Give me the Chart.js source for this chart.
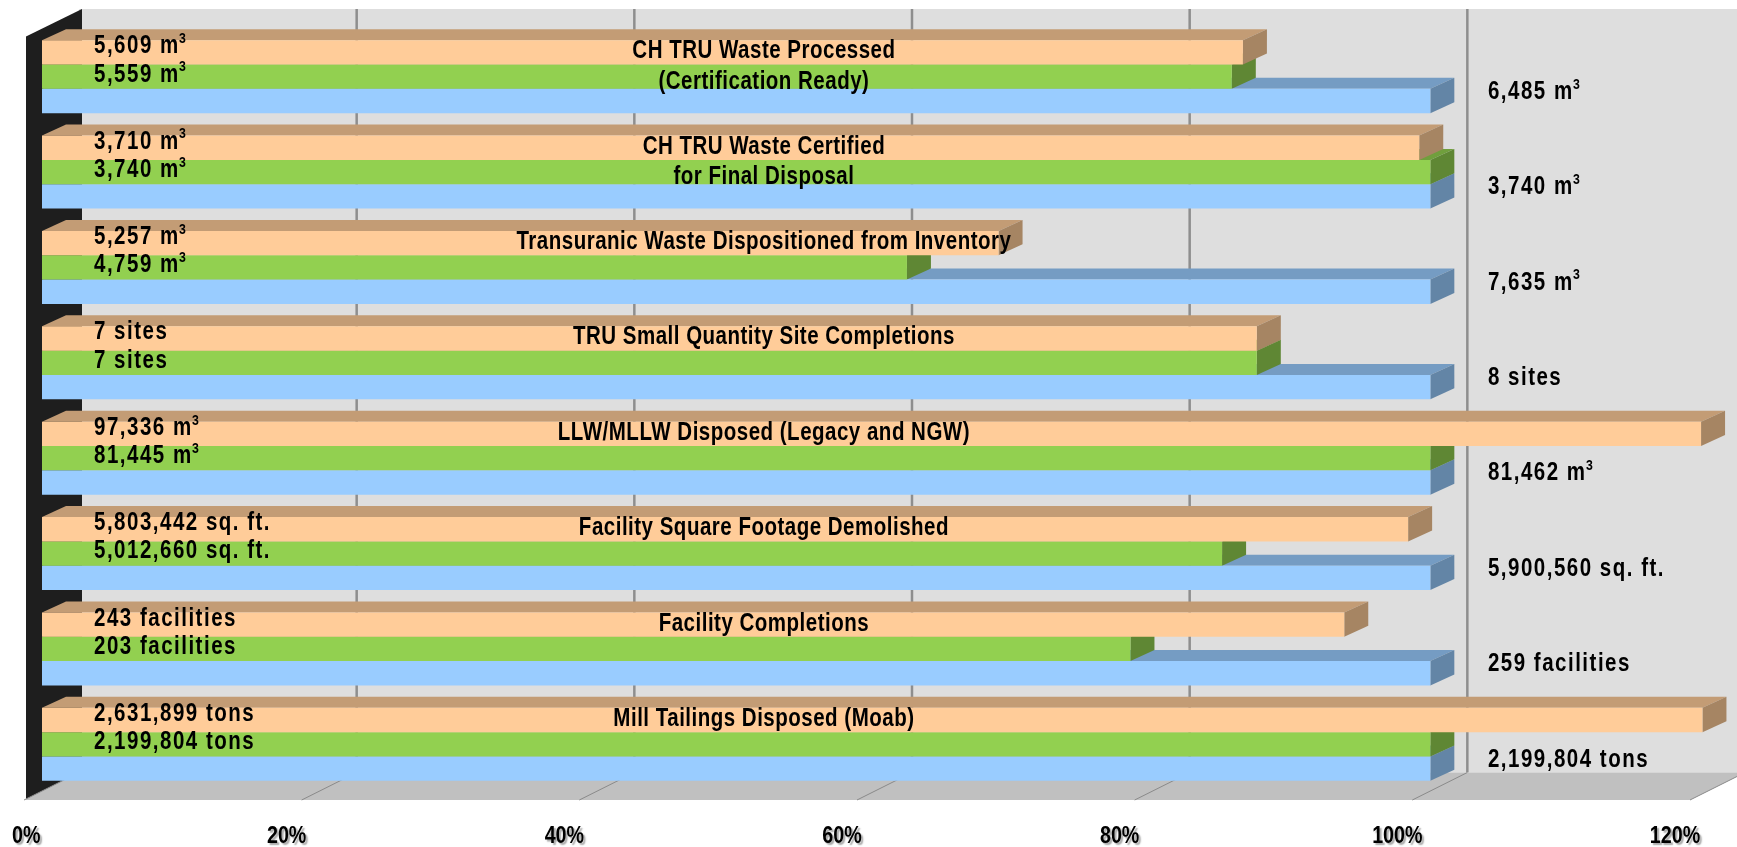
<!DOCTYPE html>
<html>
<head>
<meta charset="utf-8">
<script src="https://cdn.jsdelivr.net/npm/chart.js@4.4.1/dist/chart.umd.min.js"></script>
<style>
    html, body { margin: 0; padding: 0; background: #fff; }
    #wrap { width: 1737px; height: 847px; }
</style>
</head>
<body>
<div id="wrap"><canvas id="chart"></canvas></div>
<script>
// ============================
// DATA (percent of target)
// ============================

const categories = [
    ['CH TRU Waste Processed', '(Certification Ready)'],
    ['CH TRU Waste Certified', 'for Final Disposal'],
    ['Transuranic Waste Dispositioned from Inventory'],
    ['TRU Small Quantity Site Completions'],
    ['LLW/MLLW Disposed (Legacy and NGW)'],
    ['Facility Square Footage Demolished'],
    ['Facility Completions'],
    ['Mill Tailings Disposed (Moab)']
];

// orange / green / blue bars
const actualPct  = [86.5, 99.2, 68.9, 87.5, 119.5, 98.4, 93.8, 119.6];
const plannedPct = [85.7, 100, 62.3, 87.5, 100, 85.0, 78.4, 100];
const targetPct  = [100, 100, 100, 100, 100, 100, 100, 100];

const actualLabels  = ['5,609 m³', '3,710 m³', '5,257 m³', '7 sites', '97,336 m³', '5,803,442 sq. ft.', '243 facilities', '2,631,899 tons'];
const plannedLabels = ['5,559 m³', '3,740 m³', '4,759 m³', '7 sites', '81,445 m³', '5,012,660 sq. ft.', '203 facilities', '2,199,804 tons'];
const targetLabels  = ['6,485 m³', '3,740 m³', '7,635 m³', '8 sites', '81,462 m³', '5,900,560 sq. ft.', '259 facilities', '2,199,804 tons'];

const xTicks = [0, 20, 40, 60, 80, 100, 120];

// ============================
// STYLE
// ============================

const barColors = ['#ffcc99', '#92d050', '#99ccff'];
const DX = 24, DY = 11;            // bar depth
const BOX_DX = 55, BOX_DY = 27.5;  // floor depth (front edge -> back wall)
const FRONT_SHIFT = 18;            // floor front edge is left of the bar faces
const NARROW = 0.82;               // condensed look for Liberation Sans Bold
const FONT = "'Liberation Sans', Arial, sans-serif";

function shade(hex, f) {
    const n = parseInt(hex.slice(1), 16);
    const r = Math.round(((n >> 16) & 255) * f);
    const g = Math.round(((n >> 8) & 255) * f);
    const b = Math.round((n & 255) * f);
    return `rgb(${r},${g},${b})`;
}

function poly(ctx, pts, fill) {
    ctx.beginPath();
    ctx.moveTo(pts[0][0], pts[0][1]);
    for (let i = 1; i < pts.length; i++) ctx.lineTo(pts[i][0], pts[i][1]);
    ctx.closePath();
    ctx.fillStyle = fill;
    ctx.fill();
}

// texto condensado; "m³" se dibuja con el 3 como superíndice
function texto(ctx, str, x, y, size, align, spacing) {
    spacing = spacing || 0;
    ctx.save();
    ctx.translate(x, y);
    ctx.scale(NARROW, 1);
    ctx.font = `bold ${size}px ${FONT}`;
    ctx.letterSpacing = (spacing / NARROW) + 'px';
    ctx.textAlign = align;
    ctx.textBaseline = 'middle';
    ctx.fillStyle = '#000';
    const sup = str.indexOf('³');
    if (sup >= 0 && align === 'left') {
        const base = str.slice(0, sup);
        ctx.fillText(base, 0, 0);
        ctx.letterSpacing = '0px';
        const w = ctx.measureText(base).width + base.length * spacing / NARROW;
        ctx.font = `bold ${Math.round(size * 0.6)}px ${FONT}`;
        ctx.fillText('3', w - spacing / NARROW + 1, -size * 0.3);
    } else {
        ctx.fillText(str, 0, 0);
    }
    ctx.restore();
}

// ============================
// 3D BOX: back wall, left wall, floor
// ============================

const boxPlugin = {
    id: 'box3d',
    beforeDraw(chart) {
        const { ctx, chartArea: ca, scales: { x } } = chart;
        const px = v => x.getPixelForValue(v);
        const x0 = px(0), x120 = px(120);
        const wallTop = ca.top - 20;
        const floorFront = ca.bottom + 8;
        const floorBack = floorFront - BOX_DY;
        const back = BOX_DX - FRONT_SHIFT;

        ctx.save();
        // back wall
        ctx.fillStyle = '#dedede';
        ctx.fillRect(x0 + back, wallTop, chart.width - (x0 + back), floorBack - wallTop);

        // gridlines on the back wall
        ctx.strokeStyle = '#8e8e8e';
        ctx.lineWidth = 2.5;
        xTicks.forEach(v => {
            if (v === 0) return;
            const gx = px(v) + back;
            ctx.beginPath();
            ctx.moveTo(gx, wallTop);
            ctx.lineTo(gx, floorBack);
            ctx.stroke();
        });

        // left wall
        poly(ctx, [
            [x0 - 16, wallTop + BOX_DY],
            [x0 + 40, wallTop],
            [x0 + 40, floorBack],
            [x0 - 16, floorFront]
        ], '#1e1e1e');

        // floor
        poly(ctx, [
            [x0 - FRONT_SHIFT, floorFront],
            [x120 - FRONT_SHIFT, floorFront],
            [x120 + back, floorBack],
            [x0 + back, floorBack]
        ], '#c0c0c0');

        // floor ticks
        ctx.strokeStyle = '#8a8a8a';
        ctx.lineWidth = 1;
        xTicks.forEach(v => {
            ctx.beginPath();
            ctx.moveTo(px(v) - FRONT_SHIFT, floorFront);
            ctx.lineTo(px(v) + back, floorBack);
            ctx.stroke();
        });

        // axis labels with shadow
        ctx.save();
        ctx.shadowColor = 'rgba(0,0,0,0.35)';
        ctx.shadowOffsetX = 2;
        ctx.shadowOffsetY = 2;
        ctx.shadowBlur = 1.5;
        xTicks.forEach(v => {
            const lbl = v + '%';
            ctx.font = `bold 24px ${FONT}`;
            const w = ctx.measureText(lbl).width * NARROW;
            const cx = Math.max(px(v) - 33, w / 2 + 12);
            texto(ctx, lbl, cx, floorFront + 36, 24, 'center', 0);
        });
        ctx.restore();
        ctx.restore();
    },

    // top and side faces of every bar, drawn behind the front faces
    beforeDatasetsDraw(chart) {
        const { ctx } = chart;
        ctx.save();
        [2, 1, 0].forEach(di => {
            const meta = chart.getDatasetMeta(di);
            const col = barColors[di];
            meta.data.forEach(el => {
                const p = el.getProps(['x', 'y', 'base', 'height'], true);
                const l = Math.min(p.base, p.x), r = Math.max(p.base, p.x);
                const t = p.y - p.height / 2, b = p.y + p.height / 2;
                poly(ctx, [[l, t], [r, t], [r + DX, t - DY], [l + DX, t - DY]], shade(col, 0.765));
                poly(ctx, [[r, t], [r + DX, t - DY], [r + DX, b - DY], [r, b]], shade(col, 0.65));
            });
        });
        ctx.restore();
    },

    afterDatasetsDraw(chart) {
        const { ctx, scales: { x } } = chart;
        const orange = chart.getDatasetMeta(0).data;
        const green = chart.getDatasetMeta(1).data;
        const blue = chart.getDatasetMeta(2).data;
        const leftX = x.getPixelForValue(0) + 52;
        const titleX = x.getPixelForValue(52);
        const rightX = x.getPixelForValue(104.15);

        categories.forEach((lines, i) => {
            texto(ctx, actualLabels[i], leftX, orange[i].y - 6, 25, 'left', 1.5);
            texto(ctx, plannedLabels[i], leftX, green[i].y - 2, 25, 'left', 1.5);
            texto(ctx, lines[0], titleX, orange[i].y - 1, 25, 'center', 0.5);
            if (lines[1]) texto(ctx, lines[1], titleX, green[i].y + 5, 25, 'center', 0.5);
            texto(ctx, targetLabels[i], rightX, blue[i].y - 9, 25, 'left', 1.5);
        });
    }
};

// ============================
// CHART
// ============================

const ctx = document.getElementById('chart').getContext('2d');

const chart = new Chart(ctx, {
    type: 'bar',
    data: {
        labels: categories.map(c => c.join(' ')),
        datasets: [
            { label: 'Actual', data: actualPct, backgroundColor: barColors[0] },
            { label: 'Planned', data: plannedPct, backgroundColor: barColors[1] },
            { label: 'Target', data: targetPct, backgroundColor: barColors[2] }
        ]
    },
    options: {
        indexAxis: 'y',
        responsive: true,
        maintainAspectRatio: false,
        devicePixelRatio: 1,
        animation: false,
        datasets: {
            bar: {
                categoryPercentage: 0.7645,
                barPercentage: 1.0,
                borderWidth: 0
            }
        },
        layout: {
            padding: { left: 42, right: 29, top: 29, bottom: 55 }
        },
        plugins: {
            legend: { display: false },
            tooltip: { enabled: false }
        },
        scales: {
            x: { min: 0, max: 120, display: false },
            y: { display: false }
        }
    },
    plugins: [boxPlugin]
});
</script>
</body>
</html>
